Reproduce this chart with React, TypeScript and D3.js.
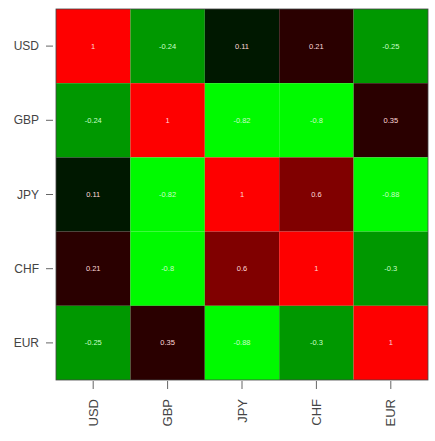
import React from "react";
import * as d3 from "d3";

const currencies = ["USD", "GBP", "JPY", "CHF", "EUR"];
const rowUSD = [1, -0.24, 0.11, 0.21, -0.25];
const rowGBP = [-0.24, 1, -0.82, -0.8, 0.35];
const rowJPY = [0.11, -0.82, 1, 0.6, -0.88];
const rowCHF = [0.21, -0.8, 0.6, 1, -0.3];
const rowEUR = [-0.25, 0.35, -0.88, -0.3, 1];
const rows = [rowUSD, rowGBP, rowJPY, rowCHF, rowEUR];

const breaks = [-0.5, 0, 0.15, 0.4, 0.8];
const palette = ["#00fa00", "#009800", "#001800", "#2a0000", "#800000", "#fe0000"];

export default function App() {
  const W = 435, H = 441;
  const left = 56, right = 428, top = 9, bottom = 380;
  const x = d3.scaleBand<string>().domain(currencies).range([left, right]);
  const y = d3.scaleBand<string>().domain(currencies).range([top, bottom]);
  const color = d3.scaleThreshold<number, string>().domain(breaks).range(palette);
  const font = "'Liberation Sans', Arial, sans-serif";

  return (
    <svg width={W} height={H} style={{ position: "absolute", left: 0, top: 0, background: "#fff" }}>
      {rows.map((row, i) =>
        row.map((v, j) => (
          <rect
            key={`c${i}-${j}`}
            x={x(currencies[j])}
            y={y(currencies[i])}
            width={x.bandwidth()}
            height={y.bandwidth()}
            fill={color(v)}
          />
        ))
      )}
      {rows.map((row, i) =>
        row.map((v, j) => (
          <text
            key={`t${i}-${j}`}
            x={(x(currencies[j]) as number) + x.bandwidth() / 2}
            y={(y(currencies[i]) as number) + y.bandwidth() / 2}
            textAnchor="middle"
            dominantBaseline="central"
            fontFamily={font}
            fontSize={7.5}
            fill={v < 0 ? "#c8ffc8" : "#ffd8d8"}
          >
            {String(v)}
          </text>
        ))
      )}
      <rect x={left} y={top} width={right - left} height={bottom - top} fill="none" stroke="#444" strokeWidth={0.8} />
      {currencies.map((c) => {
        const cy = (y(c) as number) + y.bandwidth() / 2;
        return (
          <g key={`y${c}`}>
            <line x1={46} x2={53} y1={cy} y2={cy} stroke="#666" strokeWidth={1} />
            <text x={39} y={cy} textAnchor="end" dominantBaseline="central" fontFamily={font} fontSize={12} fill="#444">
              {c}
            </text>
          </g>
        );
      })}
      {currencies.map((c) => {
        const cx = (x(c) as number) + x.bandwidth() / 2;
        return (
          <g key={`x${c}`}>
            <line x1={cx} x2={cx} y1={381} y2={389} stroke="#666" strokeWidth={1} />
            <text
              transform={`translate(${cx},${399}) rotate(-90)`}
              textAnchor="end"
              dominantBaseline="central"
              fontFamily={font}
              fontSize={13}
              fill="#444"
            >
              {c}
            </text>
          </g>
        );
      })}
    </svg>
  );
}
